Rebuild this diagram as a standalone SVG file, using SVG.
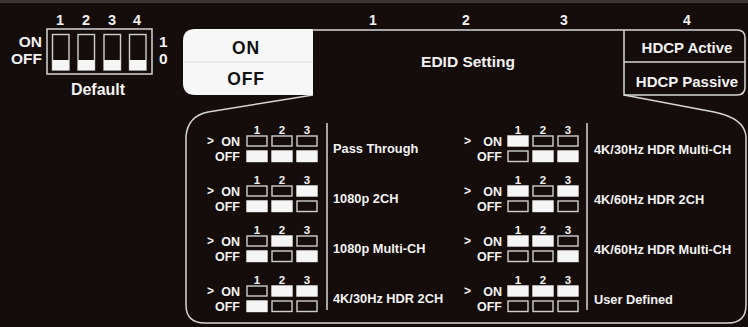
<svg xmlns="http://www.w3.org/2000/svg" width="748" height="327" viewBox="0 0 748 327">
<style>
text{font-family:"Liberation Sans",Arial,sans-serif;font-weight:bold;fill:#f2f2f2}
.c{text-anchor:middle}
.e{text-anchor:end}
.hd{font-size:14px}
.n{font-size:11.5px;text-anchor:middle}
.so{font-size:12.5px;text-anchor:end}
.ar{font-size:12px}
.lb{font-size:12.8px}
.ln{fill:none;stroke:#d6d6d6;stroke-width:1.5}
.b0{fill:none;stroke:#cfcfcf;stroke-width:1.4}
.b1{fill:#f5f5f5;stroke:#f5f5f5;stroke-width:1.4}
</style>
<rect x="0" y="0" width="748" height="327" fill="#140d0c"/>
<rect x="0" y="0" width="748" height="3" fill="#3a3636"/>

<g id="dip-default">
  <text class="c" x="60" y="25" style="font-size:14.5px">1</text>
  <text class="c" x="86" y="25" style="font-size:14.5px">2</text>
  <text class="c" x="112" y="25" style="font-size:14.5px">3</text>
  <text class="c" x="137" y="25" style="font-size:14.5px">4</text>
  <text class="e" x="42" y="47" style="font-size:15.5px">ON</text>
  <text class="e" x="42" y="64" style="font-size:15.5px">OFF</text>
  <text x="159" y="47" style="font-size:15.5px">1</text>
  <text x="159" y="64" style="font-size:15.5px">0</text>
  <rect class="ln" x="47" y="29" width="105" height="45" stroke="#bdbdbd"/>
  <rect class="b0" x="52.5" y="34.5" width="16.5" height="35.5" stroke="#eee"/>
  <rect class="b0" x="78" y="34.5" width="16.5" height="35.5" stroke="#eee"/>
  <rect class="b0" x="104" y="34.5" width="16.5" height="35.5" stroke="#eee"/>
  <rect class="b0" x="129.5" y="34.5" width="16.5" height="35.5" stroke="#eee"/>
  <rect fill="#f5f5f5" x="52.5" y="60" width="16.5" height="10"/>
  <rect fill="#f5f5f5" x="78" y="60" width="16.5" height="10"/>
  <rect fill="#f5f5f5" x="104" y="60" width="16.5" height="10"/>
  <rect fill="#f5f5f5" x="129.5" y="60" width="16.5" height="10"/>
  <text class="c" x="98" y="95" style="font-size:16px">Default</text>
</g>

<g id="header-numbers">
  <text class="c hd" x="373" y="25">1</text>
  <text class="c hd" x="466" y="25">2</text>
  <text class="c hd" x="564" y="25">3</text>
  <text class="c hd" x="687" y="25">4</text>
</g>

<g id="connectors">
  <path class="ln" d="M313,30 H737 Q745,30 745,38 V87 Q745,95 737,95 H624 V30"/>
  <line class="ln" x1="624" y1="62" x2="745" y2="62"/>
  <path class="ln" d="M313,95 L208,112 Q188,116 186,136 V305 Q186,323 205,323 H728 Q746,323 746,305 V136 Q744,118 714,112 L624,95"/>
  <line class="ln" x1="327" y1="123" x2="327" y2="310"/>
  <line class="ln" x1="587" y1="123" x2="587" y2="310"/>
</g>

<g id="onoff-box">
  <path d="M313,29 V95 H195 Q183,95 183,83 V41 Q183,29 195,29 Z" fill="#f7f7f7"/>
  <line x1="184" y1="62" x2="313" y2="62" stroke="#dcdcdc" stroke-width="1"/>
  <text class="c" x="246" y="54" style="font-size:17.5px;letter-spacing:0.8px;fill:#111">ON</text>
  <text class="c" x="246" y="85" style="font-size:17.5px;letter-spacing:0.8px;fill:#111">OFF</text>
</g>

<g id="edid-setting">
  <text class="c" x="468" y="67" style="font-size:15.5px">EDID Setting</text>
</g>

<g id="hdcp">
  <text class="c" x="687" y="53" style="font-size:15px">HDCP Active</text>
  <text class="c" x="687" y="87" style="font-size:15px">HDCP Passive</text>
</g>

<!-- left table -->
<g id="row-pass-through">
  <text class="n" x="257" y="134">1</text><text class="n" x="282" y="134">2</text><text class="n" x="307" y="134">3</text>
  <text class="ar" x="207" y="145">&gt;</text>
  <text class="so" x="240" y="146">ON</text><text class="so" x="240" y="161">OFF</text>
  <rect class="b0" x="247" y="136" width="20" height="10"/><rect class="b0" x="272" y="136" width="20" height="10"/><rect class="b0" x="297" y="136" width="20" height="10"/>
  <rect class="b1" x="247" y="151" width="20" height="10.5"/><rect class="b1" x="272" y="151" width="20" height="10.5"/><rect class="b1" x="297" y="151" width="20" height="10.5"/>
  <text class="lb" x="333" y="153">Pass Through</text>
</g>
<g id="row-1080p-2ch" transform="translate(0,50)">
  <text class="n" x="257" y="134">1</text><text class="n" x="282" y="134">2</text><text class="n" x="307" y="134">3</text>
  <text class="ar" x="207" y="145">&gt;</text>
  <text class="so" x="240" y="146">ON</text><text class="so" x="240" y="161">OFF</text>
  <rect class="b0" x="247" y="136" width="20" height="10"/><rect class="b0" x="272" y="136" width="20" height="10"/><rect class="b1" x="297" y="136" width="20" height="10"/>
  <rect class="b1" x="247" y="151" width="20" height="10.5"/><rect class="b1" x="272" y="151" width="20" height="10.5"/><rect class="b0" x="297" y="151" width="20" height="10.5"/>
  <text class="lb" x="333" y="153">1080p 2CH</text>
</g>
<g id="row-1080p-multi" transform="translate(0,100)">
  <text class="n" x="257" y="134">1</text><text class="n" x="282" y="134">2</text><text class="n" x="307" y="134">3</text>
  <text class="ar" x="207" y="145">&gt;</text>
  <text class="so" x="240" y="146">ON</text><text class="so" x="240" y="161">OFF</text>
  <rect class="b0" x="247" y="136" width="20" height="10"/><rect class="b1" x="272" y="136" width="20" height="10"/><rect class="b0" x="297" y="136" width="20" height="10"/>
  <rect class="b1" x="247" y="151" width="20" height="10.5"/><rect class="b0" x="272" y="151" width="20" height="10.5"/><rect class="b1" x="297" y="151" width="20" height="10.5"/>
  <text class="lb" x="333" y="153">1080p Multi-CH</text>
</g>
<g id="row-4k30-2ch" transform="translate(0,150)">
  <text class="n" x="257" y="134">1</text><text class="n" x="282" y="134">2</text><text class="n" x="307" y="134">3</text>
  <text class="ar" x="207" y="145">&gt;</text>
  <text class="so" x="240" y="146">ON</text><text class="so" x="240" y="161">OFF</text>
  <rect class="b0" x="247" y="136" width="20" height="10"/><rect class="b1" x="272" y="136" width="20" height="10"/><rect class="b1" x="297" y="136" width="20" height="10"/>
  <rect class="b1" x="247" y="151" width="20" height="10.5"/><rect class="b0" x="272" y="151" width="20" height="10.5"/><rect class="b0" x="297" y="151" width="20" height="10.5"/>
  <text class="lb" x="333" y="153">4K/30Hz HDR 2CH</text>
</g>

<!-- right table -->
<g id="row-4k30-multi">
  <text class="n" x="518" y="134">1</text><text class="n" x="543" y="134">2</text><text class="n" x="568" y="134">3</text>
  <text class="ar" x="464" y="145">&gt;</text>
  <text class="so" x="502" y="146">ON</text><text class="so" x="502" y="161">OFF</text>
  <rect class="b1" x="508" y="136" width="20" height="10"/><rect class="b0" x="533" y="136" width="20" height="10"/><rect class="b0" x="558" y="136" width="20" height="10"/>
  <rect class="b0" x="508" y="151" width="20" height="10.5"/><rect class="b1" x="533" y="151" width="20" height="10.5"/><rect class="b1" x="558" y="151" width="20" height="10.5"/>
  <text class="lb" x="594" y="154">4K/30Hz HDR Multi-CH</text>
</g>
<g id="row-4k60-2ch" transform="translate(0,50)">
  <text class="n" x="518" y="134">1</text><text class="n" x="543" y="134">2</text><text class="n" x="568" y="134">3</text>
  <text class="ar" x="464" y="145">&gt;</text>
  <text class="so" x="502" y="146">ON</text><text class="so" x="502" y="161">OFF</text>
  <rect class="b1" x="508" y="136" width="20" height="10"/><rect class="b0" x="533" y="136" width="20" height="10"/><rect class="b1" x="558" y="136" width="20" height="10"/>
  <rect class="b0" x="508" y="151" width="20" height="10.5"/><rect class="b1" x="533" y="151" width="20" height="10.5"/><rect class="b0" x="558" y="151" width="20" height="10.5"/>
  <text class="lb" x="594" y="154">4K/60Hz HDR 2CH</text>
</g>
<g id="row-4k60-multi" transform="translate(0,100)">
  <text class="n" x="518" y="134">1</text><text class="n" x="543" y="134">2</text><text class="n" x="568" y="134">3</text>
  <text class="ar" x="464" y="145">&gt;</text>
  <text class="so" x="502" y="146">ON</text><text class="so" x="502" y="161">OFF</text>
  <rect class="b1" x="508" y="136" width="20" height="10"/><rect class="b1" x="533" y="136" width="20" height="10"/><rect class="b0" x="558" y="136" width="20" height="10"/>
  <rect class="b0" x="508" y="151" width="20" height="10.5"/><rect class="b0" x="533" y="151" width="20" height="10.5"/><rect class="b1" x="558" y="151" width="20" height="10.5"/>
  <text class="lb" x="594" y="154">4K/60Hz HDR Multi-CH</text>
</g>
<g id="row-user-defined" transform="translate(0,150)">
  <text class="n" x="518" y="134">1</text><text class="n" x="543" y="134">2</text><text class="n" x="568" y="134">3</text>
  <text class="ar" x="464" y="145">&gt;</text>
  <text class="so" x="502" y="146">ON</text><text class="so" x="502" y="161">OFF</text>
  <rect class="b1" x="508" y="136" width="20" height="10"/><rect class="b1" x="533" y="136" width="20" height="10"/><rect class="b1" x="558" y="136" width="20" height="10"/>
  <rect class="b0" x="508" y="151" width="20" height="10.5"/><rect class="b0" x="533" y="151" width="20" height="10.5"/><rect class="b0" x="558" y="151" width="20" height="10.5"/>
  <text class="lb" x="594" y="154">User Defined</text>
</g>
</svg>
